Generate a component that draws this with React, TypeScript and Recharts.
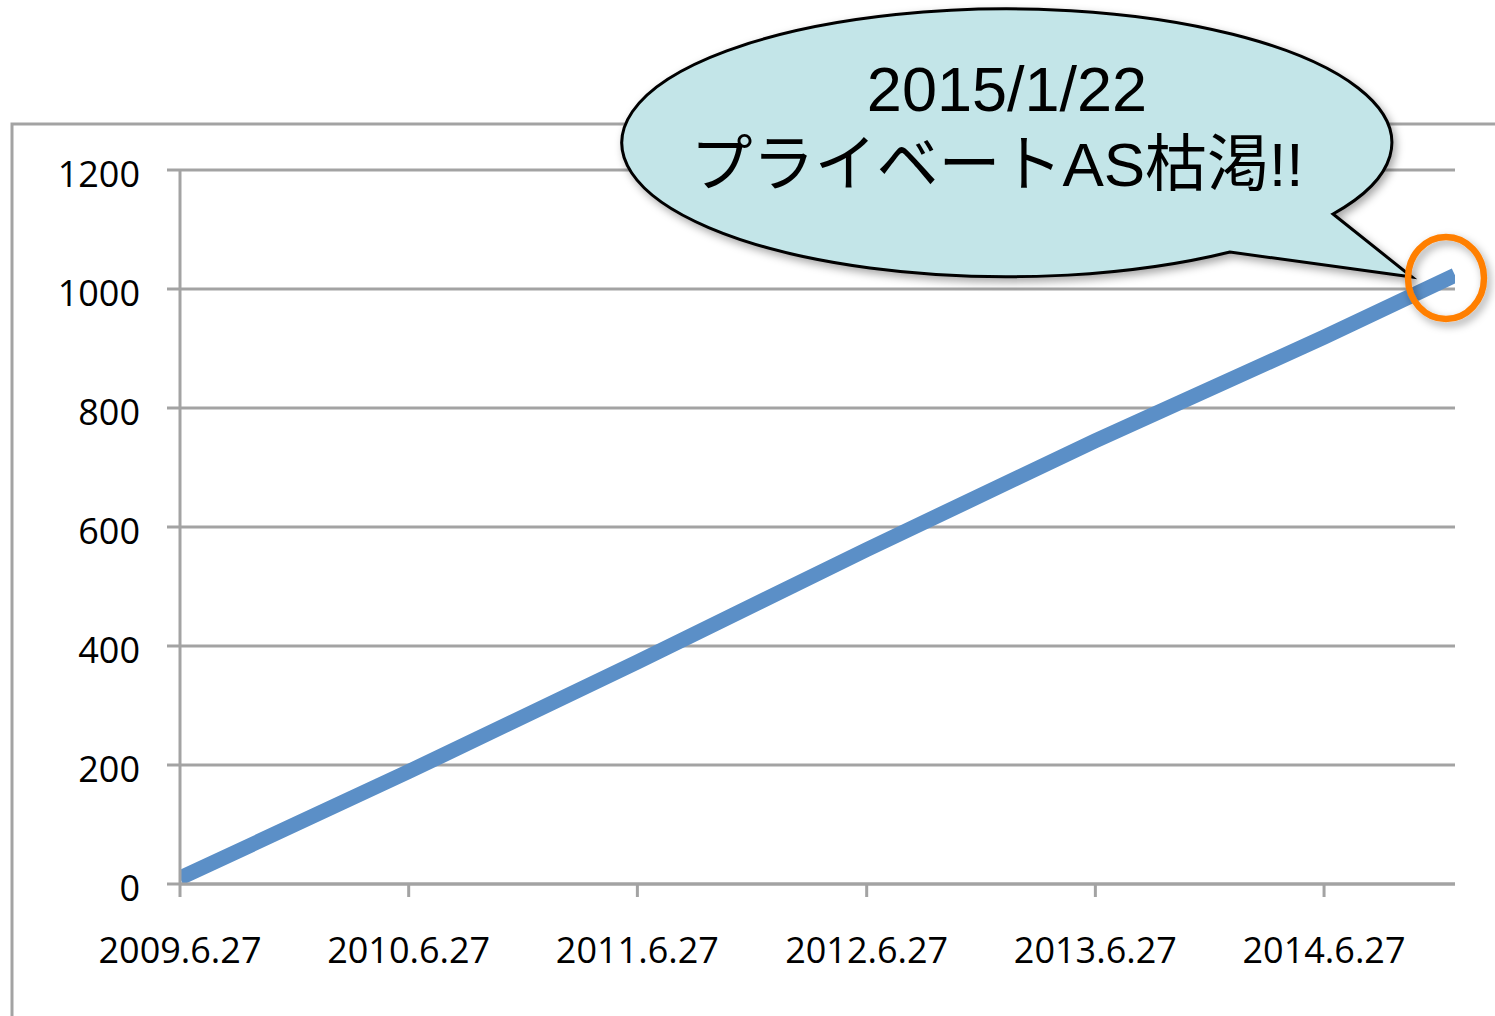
import React from 'react';
import { LineChart, Line, XAxis, YAxis, CartesianGrid } from 'recharts';

// ---- data ----
const pointDates = ['2009-06-27', '2010-06-27', '2011-06-27', '2012-06-27', '2013-06-27', '2014-06-27', '2015-01-22'];
const asCounts = [10, 189, 373, 562, 745, 919, 1023];
const xTickDates = ['2009-06-27', '2010-06-27', '2011-06-27', '2012-06-27', '2013-06-27', '2014-06-27'];
const xTickLabels = ['2009.6.27', '2010.6.27', '2011.6.27', '2012.6.27', '2013.6.27', '2014.6.27'];
const yTicks = [0, 200, 400, 600, 800, 1000, 1200];
const calloutLine1 = '2015/1/22';
const calloutLine2 = 'プライベートAS枯渇!!';

const startDate = '2009-06-27';
const endDate = '2015-01-22';

const dayIndex = (d: string) => {
  const [y, m, dd] = d.split('-').map(Number);
  const [y0, m0, d0] = startDate.split('-').map(Number);
  return Math.round((Date.UTC(y, m - 1, dd) - Date.UTC(y0, m0 - 1, d0)) / 86400000);
};

const data = pointDates.map((d, i) => ({ day: dayIndex(d), value: asCounts[i] }));
const xTicks = xTickDates.map(dayIndex);
const labelByDay: Record<number, string> = {};
xTicks.forEach((t, i) => (labelByDay[t] = xTickLabels[i]));

const GRAY = '#a3a3a3';
const AXIS_FONT = '"Open Sans", "Noto Sans", sans-serif';

const YTick = (props: any) => {
  const { x, y, payload } = props;
  return (
    <text x={x} y={y + 17} textAnchor="end" fontFamily={AXIS_FONT} fontSize={36} fill="#000">
      {payload.value}
    </text>
  );
};

const XTick = (props: any) => {
  const { x, y, payload } = props;
  return (
    <text x={x} y={y + 26} textAnchor="middle" fontFamily={AXIS_FONT} fontSize={36} fill="#000">
      {labelByDay[payload.value] ?? ''}
    </text>
  );
};

export default function App() {
  return (
    <div style={{ position: 'absolute', left: 0, top: 0, width: 1495, height: 1016, background: '#fff' }}>
      <svg width={1495} height={1016} style={{ position: 'absolute', left: 0, top: 0 }}>
        <rect x={12} y={124} width={1600} height={1000} fill="none" stroke={GRAY} strokeWidth={3} />
      </svg>
      <div style={{ position: 'absolute', left: 0, top: 0 }}>
        <LineChart
          width={1495}
          height={1016}
          data={data}
          margin={{ top: 170, right: 40, bottom: 32, left: 120 }}
        >
          <CartesianGrid horizontal vertical={false} stroke={GRAY} strokeWidth={3} />
          <XAxis
            dataKey="day"
            type="number"
            domain={[0, dayIndex(endDate)]}
            ticks={xTicks}
            allowDataOverflow
            height={100}
            tickSize={13}
            tickMargin={40}
            axisLine={{ stroke: GRAY, strokeWidth: 3 }}
            tickLine={{ stroke: GRAY, strokeWidth: 3 }}
            tick={<XTick />}
            interval={0}
          />
          <YAxis
            type="number"
            domain={[0, 1200]}
            ticks={yTicks}
            width={60}
            tickSize={13}
            tickMargin={27}
            axisLine={{ stroke: GRAY, strokeWidth: 3 }}
            tickLine={{ stroke: GRAY, strokeWidth: 3 }}
            tick={<YTick />}
            interval={0}
          />
          <Line
            type="linear"
            dataKey="value"
            stroke="#5b8fc7"
            strokeWidth={15}
            dot={false}
            activeDot={false}
            isAnimationActive={false}
          />
        </LineChart>
      </div>
      <svg width={1495} height={1016} style={{ position: 'absolute', left: 0, top: 0, pointerEvents: 'none' }}>
        <defs>
          <filter id="shadow" x="-10%" y="-10%" width="130%" height="140%">
            <feDropShadow dx={3} dy={4} stdDeviation={4} floodColor="#000" floodOpacity={0.35} />
          </filter>
        </defs>
        <path
          d="M 1333 214 L 1412 277 L 1230 252 A 385 134 0 1 1 1333 214 Z"
          fill="#c3e5e8"
          stroke="#000"
          strokeWidth={3}
          strokeLinejoin="miter"
          filter="url(#shadow)"
        />
        <text
          x={1007}
          y={111}
          textAnchor="middle"
          fontFamily='"Liberation Sans", Arial, "Noto Sans CJK JP", sans-serif'
          fontSize={63}
          fill="#000"
        >
          {calloutLine1}
        </text>
        <text
          x={997}
          y={186}
          textAnchor="middle"
          fontFamily='"Liberation Sans", Arial, "Noto Sans CJK JP", sans-serif'
          fontSize={62}
          fill="#000"
        >
          {calloutLine2}
        </text>
        <ellipse
          cx={1446}
          cy={278}
          rx={38}
          ry={41}
          fill="none"
          stroke="#ff7f00"
          strokeWidth={6.5}
          filter="url(#shadow)"
        />
      </svg>
    </div>
  );
}
